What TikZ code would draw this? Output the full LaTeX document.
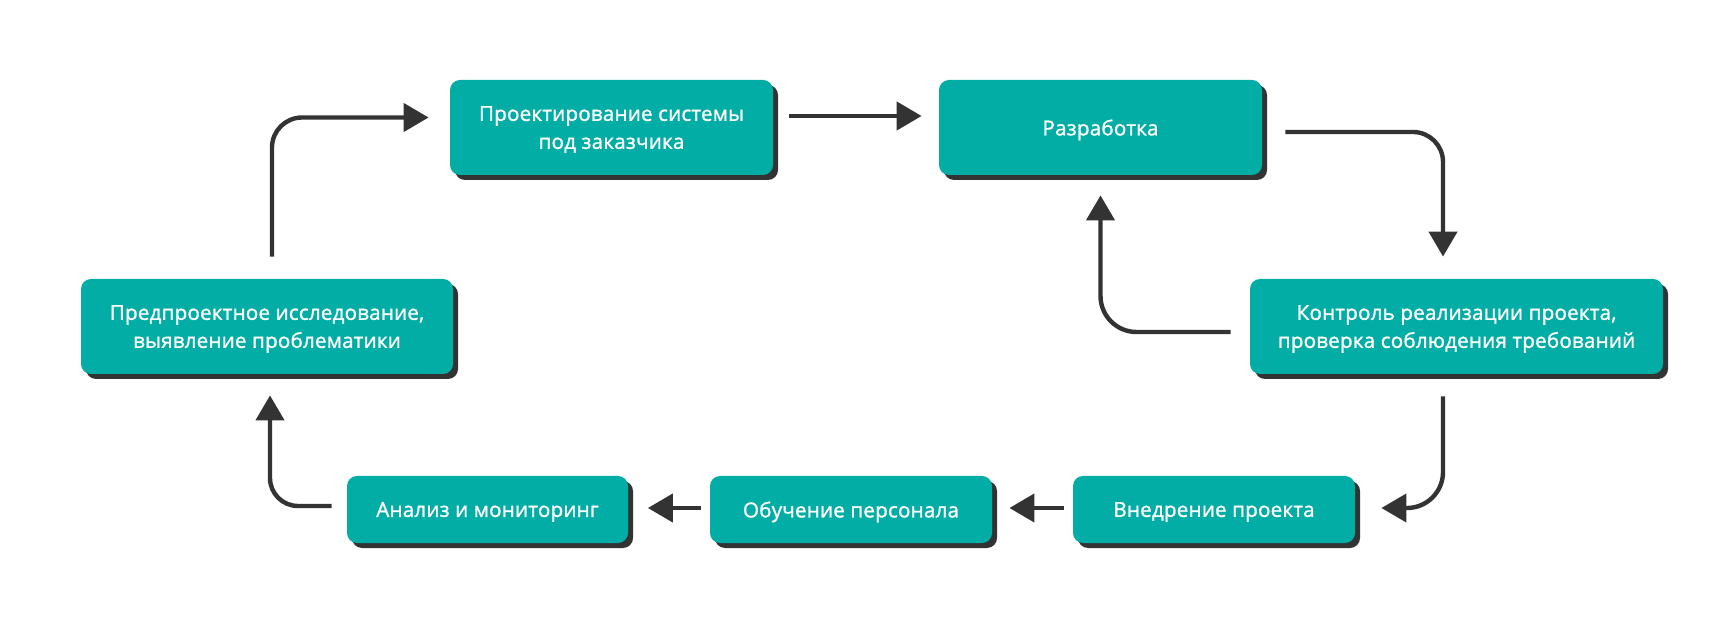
\documentclass[tikz,border=0pt]{standalone}
\usepackage{fontspec}
\setmainfont{Open Sans}
\newfontfamily\stagefont{Open Sans}[FakeBold=1.2,LetterSpace=1.0]
\usetikzlibrary{arrows.meta,shadows}
\definecolor{stagefill}{RGB}{2,173,165}
\definecolor{darkgray}{RGB}{51,51,51}

\begin{document}
\begin{tikzpicture}[
			x=0.5pt, y=-0.5pt,
			stage/.style={rectangle,rounded corners=5pt,fill=stagefill,text=white,
			align=center,inner sep=0pt,text depth=-1pt,
			font=\stagefont\fontsize{10.3}{14}\selectfont,
			general shadow={fill=darkgray,shadow xshift=2.5pt,shadow yshift=-2.5pt}},
			flow/.style={draw=darkgray,line width=2.2pt,
			-{Triangle[length=12.5pt,width=14pt]}}
			]
			\fill[white] (0,0) rectangle (1733,624);
			\useasboundingbox (0,0) rectangle (1733,624);
			\node[stage, minimum width=161.5pt, minimum height=47.5pt] (design) at (611.5,127.5)
				{Проектирование системы\\под заказчика};
			\node[stage, minimum width=161.5pt, minimum height=47.5pt] (dev) at (1100.5,127.5)
				{Разработка};
			\node[stage, minimum width=186pt, minimum height=47.5pt] (survey) at (267,326.5)
				{Предпроектное исследование,\\выявление проблематики};
			\node[stage, minimum width=206.5pt, minimum height=47.5pt] (control) at (1456.5,326.5)
				{Контроль реализации проекта,\\проверка соблюдения требований};
			\node[stage, minimum width=140.5pt, minimum height=33.5pt] (analysis) at (487.5,509.5)
				{Анализ и мониторинг};
			\node[stage, minimum width=141pt, minimum height=33.5pt] (training) at (851,509.5)
				{Обучение персонала};
			\node[stage, minimum width=141pt, minimum height=33.5pt] (deploy) at (1214,509.5)
				{Внедрение проекта};
			\draw[flow, rounded corners=15pt] ([xshift=2.5pt,yshift=11pt]survey.north)
				|- ([xshift=-10.5pt,yshift=5pt]design.west);
			\draw[flow] ([xshift=8pt,yshift=5.75pt]design.east)
				-- ([xshift=-8.5pt,yshift=5.75pt]dev.west);
			\draw[flow, rounded corners=15pt] ([xshift=11.5pt,yshift=-2.25pt]dev.east)
				-| ([xshift=-6.75pt,yshift=11pt]control.north);
			\draw[flow, rounded corners=18pt] ([xshift=-9.5pt,yshift=-2.75pt]control.west)
				-| ([yshift=-10pt]dev.south);
			\draw[flow, rounded corners=18pt] ([xshift=-6.75pt,yshift=-11pt]control.south)
				|- ([xshift=13pt,yshift=0.75pt]deploy.east);
			\draw[flow] ([xshift=-4.5pt,yshift=0.75pt]deploy.west)
				-- ([xshift=8.5pt,yshift=0.75pt]training.east);
			\draw[flow] ([xshift=-4.5pt,yshift=0.75pt]training.west)
				-- ([xshift=9.75pt,yshift=0.75pt]analysis.east);
			\draw[flow, rounded corners=14pt] ([xshift=-7.5pt,yshift=1.75pt]analysis.west)
				-| ([xshift=1.5pt,yshift=-10.5pt]survey.south);
		\end{tikzpicture}
\end{document}
